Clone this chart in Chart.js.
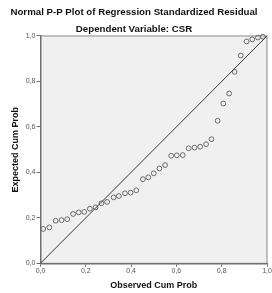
<!DOCTYPE html>
<html>
<head>
<meta charset="utf-8">
<script src="https://cdn.jsdelivr.net/npm/chart.js@4.4.1/dist/chart.umd.min.js"></script>
<style>
    html, body { margin: 0; padding: 0; background: #fff; }
    #wrap { width: 272px; height: 293px; }
</style>
</head>
<body>
<div id="wrap"><canvas id="myChart" width="272" height="293"></canvas></div>
<script>
// observed cumulative probability (x) and expected cumulative probability (y)
const observed = [0.012, 0.039, 0.067, 0.093, 0.118, 0.144, 0.169, 0.193, 0.218, 0.243,
    0.269, 0.294, 0.323, 0.346, 0.373, 0.398, 0.423, 0.452, 0.476, 0.500,
    0.525, 0.550, 0.577, 0.602, 0.628, 0.654, 0.680, 0.705, 0.731, 0.755,
    0.782, 0.807, 0.833, 0.857, 0.884, 0.910, 0.935, 0.960, 0.982];
const expected = [0.151, 0.158, 0.187, 0.190, 0.194, 0.217, 0.224, 0.226, 0.240, 0.246,
    0.264, 0.270, 0.290, 0.296, 0.308, 0.311, 0.321, 0.370, 0.378, 0.396,
    0.417, 0.432, 0.473, 0.475, 0.476, 0.506, 0.509, 0.513, 0.524, 0.546,
    0.627, 0.703, 0.747, 0.842, 0.914, 0.976, 0.985, 0.993, 0.997];
const refLine = [0, 1];
const tickValues = [0, 0.2, 0.4, 0.6, 0.8, 1.0];

const fontFamily = '"Liberation Sans", Arial, sans-serif';
const axisColor = '#6f6f6f';

const points = observed.map((x, i) => ({ x: x, y: expected[i] }));
const diagonal = refLine.map(v => ({ x: v, y: v }));

function commaLabel(v) {
    return Number(v).toFixed(1).replace('.', ',');
}

const plotFrame = {
    id: 'plotFrame',
    beforeDraw(chart) {
        const { ctx, chartArea: a } = chart;
        ctx.save();
        ctx.fillStyle = '#f0f0f0';
        ctx.fillRect(a.left, a.top, a.right - a.left, a.bottom - a.top);
        ctx.strokeStyle = '#8a8a8a';
        ctx.lineWidth = 1;
        ctx.strokeRect(a.left, a.top, a.right - a.left, a.bottom - a.top);
        ctx.restore();
    }
};

const ctx = document.getElementById('myChart').getContext('2d');
const myChart = new Chart(ctx, {
    type: 'scatter',
    data: {
        datasets: [{
            label: 'Diagonal',
            data: diagonal,
            showLine: true,
            pointRadius: 0,
            borderColor: '#3a3a3a',
            borderWidth: 1,
            clip: false
        }, {
            label: 'Residual',
            data: points,
            pointRadius: 2.4,
            pointBorderWidth: 1,
            pointBorderColor: '#6a6a6a',
            pointBackgroundColor: 'rgba(0,0,0,0)',
            clip: false
        }]
    },
    options: {
        responsive: false,
        animation: false,
        devicePixelRatio: 1,
        layout: { padding: { left: 0, right: 4, top: 0, bottom: 0 } },
        plugins: {
            legend: { display: false },
            tooltip: { enabled: false },
            title: {
                display: true,
                text: 'Normal P-P Plot of Regression Standardized Residual',
                color: '#111',
                font: { family: fontFamily, size: 9.7, weight: 'bold' },
                padding: { top: 7, bottom: 2 }
            },
            subtitle: {
                display: true,
                text: 'Dependent Variable: CSR',
                color: '#111',
                font: { family: fontFamily, size: 9.7, weight: 'bold' },
                padding: { top: 3, bottom: 0.7 }
            }
        },
        scales: {
            x: {
                type: 'linear',
                min: 0,
                max: 1,
                afterBuildTicks(scale) {
                    scale.ticks = tickValues.map(v => ({ value: v }));
                },
                afterFit(scale) {
                    scale.height = 29.7;
                    scale.paddingLeft = 0;
                    scale.paddingRight = 0;
                },
                border: { display: true, color: axisColor, width: 1.5 },
                grid: { display: true, drawOnChartArea: false, drawTicks: true, tickLength: 3.5, color: axisColor },
                ticks: {
                    color: '#555',
                    padding: 0.5,
                    maxRotation: 0,
                    autoSkip: false,
                    font: { family: fontFamily, size: 7 },
                    callback: commaLabel
                },
                title: {
                    display: true,
                    text: 'Observed Cum Prob',
                    color: '#111',
                    font: { family: fontFamily, size: 9, weight: 'bold' },
                    padding: { top: 0, bottom: 1.6 }
                }
            },
            y: {
                type: 'linear',
                min: 0,
                max: 1,
                afterBuildTicks(scale) {
                    scale.ticks = tickValues.map(v => ({ value: v }));
                },
                afterFit(scale) {
                    scale.width = 40.5;
                    scale.paddingTop = 0;
                    scale.paddingBottom = 0;
                },
                border: { display: true, color: axisColor, width: 1.5 },
                grid: { display: true, drawOnChartArea: false, drawTicks: true, tickLength: 4, color: axisColor },
                ticks: {
                    color: '#555',
                    padding: 1,
                    autoSkip: false,
                    font: { family: fontFamily, size: 7 },
                    callback: commaLabel
                },
                title: {
                    display: true,
                    text: 'Expected Cum Prob',
                    color: '#111',
                    font: { family: fontFamily, size: 9, weight: 'bold' },
                    padding: { top: 10.1, bottom: 0 }
                }
            }
        }
    },
    plugins: [plotFrame]
});
</script>
</body>
</html>
